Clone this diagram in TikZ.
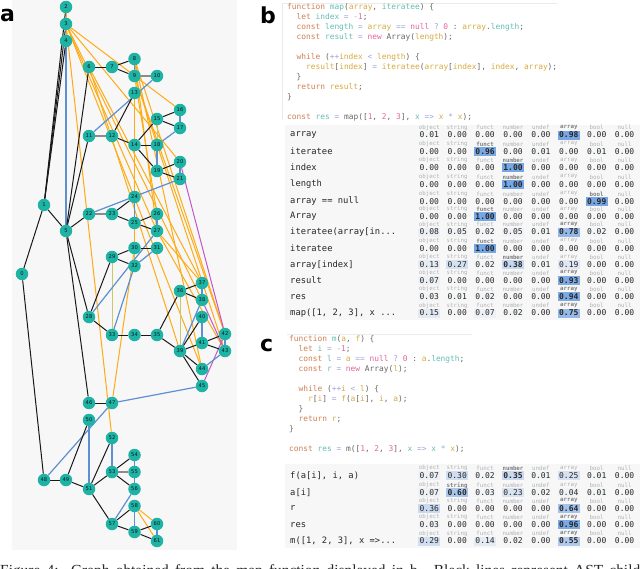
\documentclass[tikz,border=0pt]{standalone}
\usepackage{fontspec}
\setmainfont{Liberation Serif}
\setsansfont{DejaVu Sans}
\setmonofont{DejaVu Sans Mono}
\usetikzlibrary{backgrounds}

\definecolor{teal1}{HTML}{1FB3A6}
\definecolor{panel}{HTML}{F7F7F7}
\definecolor{edgeorange}{HTML}{FFAB14}
\definecolor{edgeblue}{HTML}{5C90D2}
\definecolor{edgepurple}{HTML}{C455C8}
\definecolor{edgeyellow}{HTML}{C9C96A}
\definecolor{cellblue}{HTML}{76A6E4}
\definecolor{codekw}{HTML}{CF7F52}
\definecolor{codeid}{HTML}{63BDB4}
\definecolor{codearg}{HTML}{D6A93F}
\definecolor{codenum}{HTML}{E3659F}
\definecolor{codeop}{HTML}{9CA2DE}

\newcommand\kwd[1]{\textcolor{codekw}{#1}}
\newcommand\idt[1]{\textcolor{codeid}{#1}}
\newcommand\prm[1]{\textcolor{codearg}{#1}}
\newcommand\nmb[1]{\textcolor{codenum}{#1}}
\newcommand\opr[1]{\textcolor{codeop}{#1}}
\newcommand\hdrname[1]{\ifcase#1\or object\or string\or funct\or number\or undef\or array\or bool\or null\fi}

% one row of a table: prefix, y, label, strongest column, values
\newcommand\tablerow[5]{%
  \node[rowlabel] (#1-label) at (290,#2) {#3};
  \foreach \val [count=\col] in {#5} {
    \pgfmathsetmacro\cx{429.3+27.9*(\col-1)}
    \ifnum\col=#4\relax
      \node[hdrcell,text=black!50,font=\ttfamily\bfseries\fontsize{5.8}{6}\selectfont] (#1-h\col) at (\cx,#2-7.4) {\hdrname{\col}};
      \node[valcell,fill opacity=\val,font=\ttfamily\bfseries\fontsize{8}{9}\selectfont] (#1-v\col) at (\cx,#2) {\val};
    \else
      \node[hdrcell] (#1-h\col) at (\cx,#2-7.4) {\hdrname{\col}};
      \node[valcell,fill opacity=\val] (#1-v\col) at (\cx,#2) {\val};
    \fi
  }
}

\begin{document}
\begin{tikzpicture}[x=1pt,y=-1pt,
    vertex/.style={circle,fill=teal1,inner sep=0pt,minimum size=12.5pt,text=black!85!teal1,font=\sffamily\fontsize{5.2}{6}\selectfont},
    ast/.style={draw=black!90,line width=1pt},
    flow/.style={draw=edgeorange,line width=1pt},
    nextt/.style={draw=edgeblue,line width=1.2pt},
    yld/.style={draw=edgeyellow,line width=1pt},
    purp/.style={draw=edgepurple,line width=1pt},
    sib/.style={draw=black!45,line width=1.1pt},
    codeline/.style={anchor=base west,inner sep=0pt,text=black!60,font=\ttfamily\fontsize{7.87}{10}\selectfont},
    rowlabel/.style={anchor=west,inner sep=0pt,text=black!85,font=\ttfamily\fontsize{8.8}{10}\selectfont},
    hdrcell/.style={inner sep=0pt,text=black!30,font=\ttfamily\fontsize{5.8}{6}\selectfont},
    valcell/.style={inner sep=0pt,minimum width=22pt,minimum height=9pt,fill=cellblue,text opacity=1,text=black!85,font=\ttfamily\fontsize{8}{9}\selectfont},
    panellabel/.style={anchor=base west,inner sep=0pt,font=\sffamily\bfseries\fontsize{22}{24}\selectfont}]
    \useasboundingbox (0,0) rectangle (640,568);

    % panels
    \begin{scope}[on background layer]
        \fill[panel] (12,0) rectangle (237,550);
        \fill[panel] (285,125) rectangle (640,320);
        \fill[panel] (285,464) rectangle (640,548);
        \draw[black!8,line width=0.7pt] (282,120) -- (282,3) -- (557,3);
        \draw[black!8,line width=0.7pt] (287,334) -- (472,334);
    \end{scope}

    \node[panellabel] (la) at (0,21) {a};
    \node[panellabel] (lb) at (260,23) {b};
    \node[panellabel] (lc) at (260,351) {c};

    % graph
    \node[vertex] (n0)  at (22,274)  {0};
    \node[vertex] (n1)  at (44,205)  {1};
    \node[vertex] (n2)  at (66,7)    {2};
    \node[vertex] (n3)  at (66,24)   {3};
    \node[vertex] (n4)  at (66,41)   {4};
    \node[vertex] (n5)  at (66,231)  {5};
    \node[vertex] (n6)  at (89,67)   {6};
    \node[vertex] (n7)  at (112,67)  {7};
    \node[vertex] (n8)  at (134.5,59)  {8};
    \node[vertex] (n9)  at (134.5,76)  {9};
    \node[vertex] (n10) at (157,76)  {10};
    \node[vertex] (n11) at (89,136)  {11};
    \node[vertex] (n12) at (112,136) {12};
    \node[vertex] (n13) at (134.5,93)  {13};
    \node[vertex] (n14) at (134.5,145) {14};
    \node[vertex] (n15) at (157,119) {15};
    \node[vertex] (n16) at (180,110) {16};
    \node[vertex] (n17) at (180,128) {17};
    \node[vertex] (n18) at (157,145) {18};
    \node[vertex] (n19) at (157,171) {19};
    \node[vertex] (n20) at (180,162) {20};
    \node[vertex] (n21) at (180,179) {21};
    \node[vertex] (n22) at (89,214)  {22};
    \node[vertex] (n23) at (112,214) {23};
    \node[vertex] (n24) at (134.5,197) {24};
    \node[vertex] (n25) at (134.5,223) {25};
    \node[vertex] (n26) at (157,214) {26};
    \node[vertex] (n27) at (157,231) {27};
    \node[vertex] (n28) at (89,317)  {28};
    \node[vertex] (n29) at (112,257) {29};
    \node[vertex] (n30) at (134.5,248) {30};
    \node[vertex] (n31) at (157,248) {31};
    \node[vertex] (n32) at (134.5,266) {32};
    \node[vertex] (n33) at (112,335) {33};
    \node[vertex] (n34) at (134.5,335) {34};
    \node[vertex] (n35) at (157,335) {35};
    \node[vertex] (n36) at (180,291) {36};
    \node[vertex] (n37) at (202,283) {37};
    \node[vertex] (n38) at (202,300) {38};
    \node[vertex] (n39) at (180,351) {39};
    \node[vertex] (n40) at (202,317) {40};
    \node[vertex] (n41) at (202,343) {41};
    \node[vertex] (n42) at (225,334) {42};
    \node[vertex] (n43) at (225,351) {43};
    \node[vertex] (n44) at (202,369) {44};
    \node[vertex] (n45) at (202,386) {45};
    \node[vertex] (n46) at (89,403)  {46};
    \node[vertex] (n47) at (112,403) {47};
    \node[vertex] (n48) at (44,480)  {48};
    \node[vertex] (n49) at (66,480)  {49};
    \node[vertex] (n50) at (89,420)  {50};
    \node[vertex] (n51) at (89,489)  {51};
    \node[vertex] (n52) at (112,438) {52};
    \node[vertex] (n53) at (112,472) {53};
    \node[vertex] (n54) at (134.5,455) {54};
    \node[vertex] (n55) at (134.5,472) {55};
    \node[vertex] (n56) at (134.5,489) {56};
    \node[vertex] (n57) at (112,524) {57};
    \node[vertex] (n58) at (134.5,506) {58};
    \node[vertex] (n59) at (134.5,532) {59};
    \node[vertex] (n60) at (157,524) {60};
    \node[vertex] (n61) at (157,541) {61};

    \begin{scope}[on background layer]
        % orange edges
        \draw[flow] (n2) -- (n3);
        \draw[flow] (n3) -- (n4);
        \draw[flow] (n3) -- (n16);
        \draw[flow] (n3) -- (n20);
        \draw[flow] (n3) -- (n27);
        \draw[flow] (n3) -- (n38);
        \draw[flow] (n3) -- (n44);
        \draw[flow] (n3) -- (n52);
        \draw[flow] (n6) -- (n37);
        \draw[flow] (n6) -- (n39);
        \draw[flow] (n8) -- (n9);
        \draw[flow] (n8) -- (n27);
        \draw[flow] (n8) -- (n44);
        \draw[flow] (n8) -- (n42);
        \draw[flow] (n9) -- (n26);
        \draw[flow] (n9) -- (n43);
        \draw[flow] (n9) -- (n42);
        \draw[flow] (n13) -- (n30);
        \draw[flow] (n30) -- (n47);
        \draw[flow] (n27) -- (n43);
        \draw[flow] (n27) -- (n37);
        \draw[flow] (n42) -- (n43);
        \draw[flow] (n58) -- (n60);
        \draw[flow] (n58) -- (n61);
        % purple edges
        \draw[purp] (n20) -- (n42);
        \draw[purp] (n38) -- (n43);
        \draw[purp] (n42) -- (n45);
        % yellow edges
        \draw[yld] (n15) -- (n18);
        \draw[yld] (n29) -- (n33);
        \draw[yld] (n30) -- (n32);
        \draw[yld] (n36) -- (n39);
        % blue edges
        \draw[nextt] (n4) -- (n5);
        \draw[nextt] (n8) -- (n9);
        \draw[nextt] (n10) -- (n11);
        \draw[nextt] (n16) -- (n17);
        \draw[nextt] (n17) -- (n18);
        \draw[nextt] (n18) -- (n19);
        \draw[nextt] (n20) -- (n21);
        \draw[nextt] (n21) -- (n22);
        \draw[nextt] (n24) -- (n25);
        \draw[nextt] (n26) -- (n27);
        \draw[nextt] (n27) -- (n28);
        \draw[nextt] (n31) -- (n32);
        \draw[nextt] (n32) -- (n33);
        \draw[nextt] (n37) -- (n38);
        \draw[nextt] (n38) -- (n39);
        \draw[nextt] (n40) -- (n41);
        \draw[nextt] (n42) -- (n43);
        \draw[nextt] (n43) -- (n44);
        \draw[nextt] (n45) -- (n47);
        \draw[nextt] (n47) -- (n48);
        \draw[nextt] (n50) -- (n51);
        \draw[nextt] (n52) -- (n53);
        \draw[nextt] (n54) -- (n55);
        \draw[nextt] (n55) -- (n56);
        \draw[nextt] (n56) -- (n57);
        \draw[nextt] (n58) -- (n59);
        \draw[nextt] (n60) -- (n61);
        % gray edges
        \draw[sib] (n9) -- (n10);
        \draw[sib] (n11) -- (n12);
        \draw[sib] (n22) -- (n23);
        \draw[sib] (n53) -- (n55);
        % black edges
        \draw[ast] (n0) -- (n1);
        \draw[ast] (n0) -- (n48);
        \draw[ast] (n1) -- (n2);
        \draw[ast] (n1) -- (n3);
        \draw[ast] (n1) -- (n4);
        \draw[ast] (n1) -- (n5);
        \draw[ast] (n5) -- (n6);
        \draw[ast] (n5) -- (n11);
        \draw[ast] (n5) -- (n22);
        \draw[ast] (n5) -- (n28);
        \draw[ast] (n5) -- (n46);
        \draw[ast] (n6) -- (n7);
        \draw[ast] (n7) -- (n8);
        \draw[ast] (n7) -- (n9);
        \draw[ast] (n12) -- (n13);
        \draw[ast] (n12) -- (n14);
        \draw[ast] (n14) -- (n15);
        \draw[ast] (n14) -- (n18);
        \draw[ast] (n14) -- (n19);
        \draw[ast] (n15) -- (n16);
        \draw[ast] (n15) -- (n17);
        \draw[ast] (n19) -- (n20);
        \draw[ast] (n19) -- (n21);
        \draw[ast] (n23) -- (n24);
        \draw[ast] (n23) -- (n25);
        \draw[ast] (n25) -- (n26);
        \draw[ast] (n25) -- (n27);
        \draw[ast] (n28) -- (n29);
        \draw[ast] (n28) -- (n33);
        \draw[ast] (n29) -- (n30);
        \draw[ast] (n29) -- (n32);
        \draw[ast] (n30) -- (n31);
        \draw[ast] (n33) -- (n34);
        \draw[ast] (n34) -- (n35);
        \draw[ast] (n35) -- (n36);
        \draw[ast] (n35) -- (n39);
        \draw[ast] (n36) -- (n37);
        \draw[ast] (n36) -- (n38);
        \draw[ast] (n39) -- (n40);
        \draw[ast] (n39) -- (n41);
        \draw[ast] (n39) -- (n44);
        \draw[ast] (n39) -- (n45);
        \draw[ast] (n41) -- (n42);
        \draw[ast] (n41) -- (n43);
        \draw[ast] (n46) -- (n47);
        \draw[ast] (n48) -- (n49);
        \draw[ast] (n49) -- (n50);
        \draw[ast] (n49) -- (n51);
        \draw[ast] (n51) -- (n52);
        \draw[ast] (n51) -- (n53);
        \draw[ast] (n51) -- (n57);
        \draw[ast] (n53) -- (n54);
        \draw[ast] (n53) -- (n56);
        \draw[ast] (n57) -- (n58);
        \draw[ast] (n57) -- (n59);
        \draw[ast] (n59) -- (n60);
        \draw[ast] (n59) -- (n61);
    \end{scope}

    % code b
    \node[codeline] (b1)  at (287,9.3)     {\kwd{function} \idt{map}(\prm{array}, \idt{iteratee}) \{};
    \node[codeline] (b2)  at (296.4,19.3)  {\kwd{let} \idt{index} \opr{=} \opr{-}\nmb{1};};
    \node[codeline] (b3)  at (296.4,29.3)  {\kwd{const} \idt{length} \opr{=} \prm{array} \opr{==} \nmb{null} \opr{?} \nmb{0} : \prm{array}.\idt{length};};
    \node[codeline] (b4)  at (296.4,39.3)  {\kwd{const} \idt{result} \opr{=} \nmb{new} Array(\prm{length});};
    \node[codeline] (b5)  at (296.4,59.3)  {\kwd{while} (\opr{++}\prm{index} \opr{<} \prm{length}) \{};
    \node[codeline] (b6)  at (305.9,69.3)  {\prm{result}[\prm{index}] \opr{=} \prm{iteratee}(\prm{array}[\prm{index}], \prm{index}, \prm{array});};
    \node[codeline] (b7)  at (296.4,79.3)  {\}};
    \node[codeline] (b8)  at (296.4,89.3)  {\kwd{return} \prm{result};};
    \node[codeline] (b9)  at (287,99.3)    {\}};
    \node[codeline] (b10) at (287,119.3)   {\kwd{const} \idt{res} \opr{=} map([\nmb{1}, \nmb{2}, \nmb{3}], \idt{x} \opr{=>} \prm{x} \opr{*} \prm{x});};

    % table b
    \tablerow{tb1}{135}{array}{6}{0.01,0.00,0.00,0.00,0.00,0.98,0.00,0.00}
    \tablerow{tb2}{151.3}{iteratee}{3}{0.00,0.00,0.96,0.00,0.01,0.00,0.01,0.00}
    \tablerow{tb3}{167.7}{index}{4}{0.00,0.00,0.00,1.00,0.00,0.00,0.00,0.00}
    \tablerow{tb4}{184.3}{length}{4}{0.00,0.00,0.00,1.00,0.00,0.00,0.00,0.00}
    \tablerow{tb5}{201.3}{array == null}{7}{0.00,0.00,0.00,0.00,0.00,0.00,0.99,0.00}
    \tablerow{tb6}{216.7}{Array}{3}{0.00,0.00,1.00,0.00,0.00,0.00,0.00,0.00}
    \tablerow{tb7}{232}{iteratee(array[in...}{6}{0.08,0.05,0.02,0.05,0.01,0.78,0.02,0.00}
    \tablerow{tb8}{248.3}{iteratee}{3}{0.00,0.00,1.00,0.00,0.00,0.00,0.00,0.00}
    \tablerow{tb9}{264.7}{array[index]}{4}{0.13,0.27,0.02,0.38,0.01,0.19,0.00,0.00}
    \tablerow{tb10}{280.3}{result}{6}{0.07,0.00,0.00,0.00,0.00,0.93,0.00,0.00}
    \tablerow{tb11}{296.7}{res}{6}{0.03,0.01,0.02,0.00,0.00,0.94,0.00,0.00}
    \tablerow{tb12}{313}{map([1, 2, 3], x ...}{6}{0.15,0.00,0.07,0.02,0.00,0.75,0.00,0.00}

    % code c
    \node[codeline] (c1)  at (289,341.6)   {\kwd{function} \idt{m}(\prm{a}, \prm{f}) \{};
    \node[codeline] (c2)  at (298.4,351.6) {\kwd{let} \idt{i} \opr{=} \opr{-}\nmb{1};};
    \node[codeline] (c3)  at (298.4,361.6) {\kwd{const} \idt{l} \opr{=} \prm{a} \opr{==} \nmb{null} \opr{?} \nmb{0} : \prm{a}.\idt{length};};
    \node[codeline] (c4)  at (298.4,371.6) {\kwd{const} \idt{r} \opr{=} \nmb{new} Array(\prm{l});};
    \node[codeline] (c5)  at (298.4,391.6) {\kwd{while} (\opr{++}\prm{i} \opr{<} \prm{l}) \{};
    \node[codeline] (c6)  at (307.9,401.6) {\prm{r}[\prm{i}] \opr{=} \prm{f}(\prm{a}[\prm{i}], \prm{i}, \prm{a});};
    \node[codeline] (c7)  at (298.4,411.6) {\}};
    \node[codeline] (c8)  at (298.4,421.6) {\kwd{return} \prm{r};};
    \node[codeline] (c9)  at (289,431.6)   {\}};
    \node[codeline] (c10) at (289,451.6)   {\kwd{const} \idt{res} \opr{=} m([\nmb{1}, \nmb{2}, \nmb{3}], \idt{x} \opr{=>} \idt{x} \opr{*} \prm{x});};

    % table c
    \tablerow{tc1}{475.7}{f(a[i], i, a)}{4}{0.07,0.30,0.02,0.35,0.01,0.25,0.01,0.00}
    \tablerow{tc2}{492.7}{a[i]}{2}{0.07,0.60,0.03,0.23,0.02,0.04,0.01,0.00}
    \tablerow{tc3}{508.3}{r}{6}{0.36,0.00,0.00,0.00,0.00,0.64,0.00,0.00}
    \tablerow{tc4}{524.7}{res}{6}{0.03,0.00,0.00,0.00,0.00,0.96,0.00,0.00}
    \tablerow{tc5}{541}{m([1, 2, 3], x =>...}{6}{0.29,0.00,0.14,0.02,0.00,0.55,0.00,0.00}

    % caption, cut by the page edge
    \node[anchor=base west,inner sep=0pt,text=black!85,font=\fontsize{15.4}{17}\selectfont] (caption) at (0,575)
        {\hbox to 640pt{Figure 4:\ \ Graph obtained from the map function displayed in b. Black lines represent AST child}};
\end{tikzpicture}
\end{document}
